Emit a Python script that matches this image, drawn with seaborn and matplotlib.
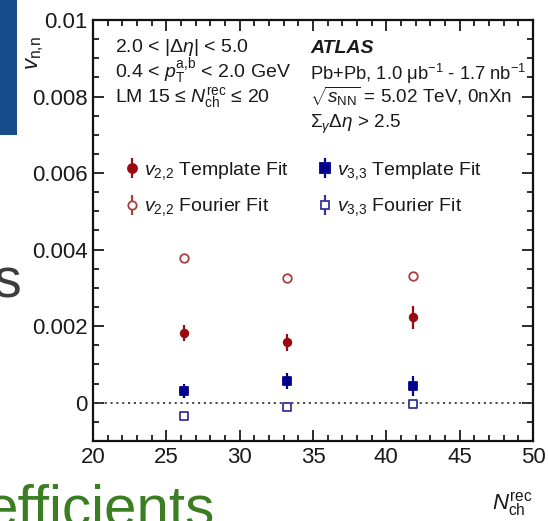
import numpy as np
import pandas as pd
import matplotlib
matplotlib.use("Agg")
import matplotlib.pyplot as plt
import seaborn as sns
from matplotlib.lines import Line2D
from matplotlib.patches import Rectangle
from matplotlib.ticker import MultipleLocator

# ---- data -------------------------------------------------------------
nch = [26.2, 33.2, 41.8]

v22_template = [0.00182, 0.00158, 0.00223]
v22_template_err = [0.00022, 0.00022, 0.00030]
v22_fourier = [0.00377, 0.00325, 0.00332]
v22_fourier_err = [0.00006, 0.00006, 0.00008]

v33_template = [0.00031, 0.00057, 0.00044]
v33_template_err = [0.00018, 0.00020, 0.00026]
v33_fourier = [-0.00034, -0.00010, -0.00003]
v33_fourier_err = [0.00004, 0.00004, 0.00006]

y_ticks = [0, 0.002, 0.004, 0.006, 0.008, 0.01]
y_tick_labels = ["0", "0.002", "0.004", "0.006", "0.008", "0.01"]
x_ticks = [20, 25, 30, 35, 40, 45, 50]

series_labels = [r"$v_{2{,}2}$ Template Fit", r"$v_{2{,}2}$ Fourier Fit",
                 r"$v_{3{,}3}$ Template Fit", r"$v_{3{,}3}$ Fourier Fit"]

frames = []
for lab, vals, errs in zip(series_labels,
                           [v22_template, v22_fourier, v33_template, v33_fourier],
                           [v22_template_err, v22_fourier_err, v33_template_err, v33_fourier_err]):
    frames.append(pd.DataFrame({"nch": nch, "v": vals, "err": errs, "series": lab}))
df = pd.concat(frames, ignore_index=True)

# ---- style --------------------------------------------------------------
sns.set_theme(style="ticks")
plt.rcParams["font.family"] = ["Liberation Sans", "DejaVu Sans"]
plt.rcParams["mathtext.fontset"] = "custom"
plt.rcParams["mathtext.rm"] = "Liberation Sans"
plt.rcParams["mathtext.it"] = "Liberation Sans:italic"
plt.rcParams["mathtext.bf"] = "Liberation Sans:bold"
plt.rcParams["text.color"] = "#1a1a1a"

RED = "#9a0a10"
RED_OPEN = "#a8403f"
BLUE = "#00008c"
BLUE_OPEN = "#35359a"

styles = {
    series_labels[0]: dict(marker="o", fc=RED, ec=RED, s=30, bar=RED),
    series_labels[1]: dict(marker="o", fc="white", ec=RED_OPEN, s=38, bar=RED_OPEN),
    series_labels[2]: dict(marker="s", fc=BLUE, ec=BLUE, s=28, bar=BLUE),
    series_labels[3]: dict(marker="s", fc="white", ec=BLUE_OPEN, s=38, bar=BLUE_OPEN),
}

W, H = 549, 521
fig = plt.figure(figsize=(W / 100, H / 100), dpi=100)

def fx(px):
    return px / W

def fy(py):
    return 1 - py / H

# slide decorations around the plot
fig.patches.append(Rectangle((0, fy(135)), fx(17), 135 / H, transform=fig.transFigure,
                             facecolor="#174b8c", edgecolor="none", zorder=0))
fig.text(fx(-7), fy(297), "s", fontsize=40, color="#3d3d3d", ha="left", va="baseline")
fig.text(fx(-14), fy(525), "efficients", fontsize=42, color="#3b7d23", ha="left", va="baseline")

ax = fig.add_axes([fx(93), fy(441), (533 - 93) / W, (441 - 20) / H])
ax.set_facecolor("white")

ax.axhline(0, color="#4a4a4a", lw=1.4, dashes=(1.1, 1.9), zorder=1)

for lab in series_labels:
    st = styles[lab]
    sub = df[df["series"] == lab]
    ax.errorbar(sub["nch"], sub["v"], yerr=sub["err"], fmt="none",
                ecolor=st["bar"], elinewidth=1.6, capsize=0, zorder=2)
    sns.scatterplot(data=sub, x="nch", y="v", marker=st["marker"], s=st["s"],
                    facecolor=st["fc"], edgecolor=st["ec"], linewidth=1.3,
                    ax=ax, legend=False, zorder=3)

ax.set_xlim(20, 50)
ax.set_ylim(-0.001, 0.01)
ax.set_xticks(x_ticks)
ax.set_xticklabels([str(t) for t in x_ticks])
ax.set_yticks(y_ticks)
ax.set_yticklabels(y_tick_labels)
ax.xaxis.set_minor_locator(MultipleLocator(1))
ax.yaxis.set_minor_locator(MultipleLocator(0.0005))
ax.tick_params(which="both", direction="in", top=True, right=True,
               colors="#1a1a1a", width=1.3)
ax.tick_params(which="major", length=8, labelsize=16, pad=4)
ax.tick_params(which="minor", length=4)
ax.set_xlabel("")
ax.set_ylabel("")
for sp in ax.spines.values():
    sp.set_visible(True)
    sp.set_linewidth(1.6)
    sp.set_color("#111111")

# axis titles
fig.text(fx(533), fy(510), r"$N_{\mathrm{ch}}^{\mathrm{rec}}$", fontsize=16,
         ha="right", va="baseline")
fig.text(fx(35), fy(36), r"$v_{\mathrm{n{,}n}}$", fontsize=16, rotation=90,
         ha="center", va="top")

# legends (marker with vertical error bar)
def handle(lab):
    st = styles[lab]
    bar = Line2D([0], [0], color=st["bar"], marker="|", markersize=14,
                 markeredgewidth=1.6, ls="none")
    mk = Line2D([0], [0], marker=st["marker"], markersize=6.5 if st["fc"] != "white" else 6,
                markerfacecolor=st["fc"], markeredgecolor=st["ec"],
                markeredgewidth=1.3, ls="none")
    return (bar, mk)

leg_kw = dict(frameon=False, fontsize=14, handlelength=0.5, handletextpad=0.35,
              labelspacing=0.75, borderpad=0, borderaxespad=0, loc="upper left",
              bbox_transform=fig.transFigure)
leg1 = ax.legend([handle(series_labels[0]), handle(series_labels[1])],
                 series_labels[:2], bbox_to_anchor=(fx(127), fy(160)), **leg_kw)
ax.add_artist(leg1)
ax.legend([handle(series_labels[2]), handle(series_labels[3])],
          series_labels[2:], bbox_to_anchor=(fx(320), fy(160)), **leg_kw)

# selection and experiment labels
fs = 14
fig.text(fx(115), fy(52), r"2.0 < |$\Delta\eta$| < 5.0", fontsize=fs, va="baseline")
fig.text(fx(115), fy(78), r"0.4 < $p_{\mathrm{T}}^{\mathrm{a{,}b}}$ < 2.0 GeV", fontsize=fs, va="baseline")
fig.text(fx(115), fy(103), r"LM 15 ≤ $N_{\mathrm{ch}}^{\mathrm{rec}}$ ≤ 20", fontsize=fs, va="baseline")

fig.text(fx(310), fy(53), "ATLAS", fontsize=fs, fontweight="bold", fontstyle="italic", va="baseline")
fig.text(fx(310), fy(80), r"Pb+Pb, 1.0 μb$^{\mathrm{-1}}$ - 1.7 nb$^{\mathrm{-1}}$", fontsize=13.2, va="baseline")
fig.text(fx(310), fy(103), r"$\sqrt{s_{\mathrm{NN}}}$ = 5.02 TeV, 0nXn", fontsize=13.6, va="baseline")
fig.text(fx(310), fy(128), r"$\Sigma_{\gamma}\Delta\eta$ > 2.5", fontsize=13.6, va="baseline")

fig.savefig("out.png", dpi=100, facecolor="white")
